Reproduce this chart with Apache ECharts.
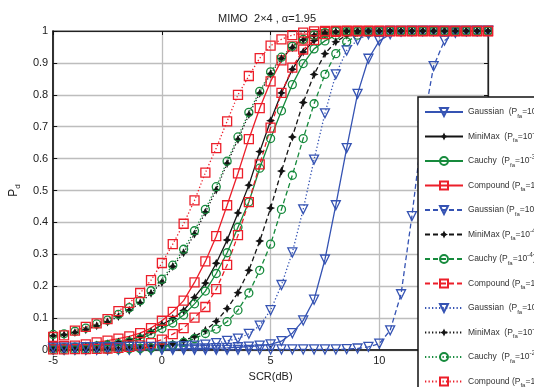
<!DOCTYPE html>
<html><head><meta charset="utf-8">
<script src="https://cdn.jsdelivr.net/npm/echarts@6/dist/echarts.min.js"></script>
<style>html,body{margin:0;padding:0;background:#fff}#c{width:534px;height:387px}</style>
</head><body><div id="c"></div>
<script>
const scr = [-5,-4.5,-4,-3.5,-3,-2.5,-2,-1.5,-1,-0.5,0,0.5,1,1.5,2,2.5,3,3.5,4,4.5,5,5.5,6,6.5,7,7.5,8,8.5,9,9.5,10,10.5,11,11.5,12,12.5,13,13.5,14,14.5,15];
const xTicks = [-5,0,5,10,15];
const yTicks = [0,0.1,0.2,0.3,0.4,0.5,0.6,0.7,0.8,0.9,1];

const gauss3 = [0.002,0.002,0.002,0.002,0.002,0.002,0.003,0.003,0.003,0.003,0.003,0.004,0.004,0.005,0.005,0.006,0.007,0.009,0.011,0.014,0.018,0.028,0.053,0.093,0.158,0.284,0.454,0.633,0.803,0.913,0.969,0.99,0.998,1,1,1,1,1,1,1,1];
const minimax3 = [0.008,0.009,0.011,0.013,0.016,0.02,0.025,0.032,0.042,0.058,0.08,0.099,0.124,0.165,0.21,0.272,0.345,0.43,0.517,0.622,0.719,0.806,0.88,0.934,0.97,0.988,0.996,0.999,1,1,1,1,1,1,1,1,1,1,1,1,1];
const cauchy3 = [0.007,0.008,0.009,0.011,0.013,0.016,0.02,0.026,0.035,0.05,0.068,0.085,0.11,0.145,0.185,0.24,0.305,0.385,0.464,0.57,0.663,0.75,0.832,0.898,0.944,0.969,0.987,0.995,0.999,1,1,1,1,1,1,1,1,1,1,1,1];
const compound3 = [0.01,0.012,0.014,0.018,0.024,0.03,0.036,0.043,0.053,0.069,0.092,0.12,0.155,0.212,0.278,0.357,0.454,0.554,0.661,0.758,0.842,0.908,0.952,0.976,0.99,0.997,1,1,1,1,1,1,1,1,1,1,1,1,1,1,1];
const gauss4 = [0.001,0.001,0.001,0.001,0.001,0.001,0.001,0.001,0.001,0.001,0.001,0.001,0.001,0.001,0.001,0.001,0.001,0.001,0.001,0.002,0.002,0.002,0.002,0.002,0.002,0.002,0.002,0.003,0.005,0.01,0.02,0.062,0.175,0.42,0.7,0.89,0.97,0.994,0.999,1,1];
const minimax4 = [0.001,0.001,0.0015,0.002,0.002,0.003,0.004,0.005,0.007,0.01,0.014,0.02,0.03,0.043,0.062,0.09,0.13,0.18,0.25,0.342,0.445,0.561,0.668,0.776,0.864,0.929,0.966,0.987,0.995,0.999,1,1,1,1,1,1,1,1,1,1,1];
const cauchy4 = [0.001,0.001,0.001,0.0015,0.002,0.002,0.003,0.004,0.005,0.007,0.01,0.015,0.024,0.036,0.052,0.066,0.089,0.125,0.179,0.25,0.332,0.441,0.548,0.663,0.772,0.864,0.929,0.966,0.987,0.995,0.999,1,1,1,1,1,1,1,1,1,1];
const compound4 = [0.002,0.002,0.003,0.003,0.004,0.005,0.007,0.01,0.015,0.022,0.033,0.05,0.069,0.102,0.135,0.191,0.267,0.36,0.464,0.582,0.697,0.806,0.885,0.942,0.972,0.99,0.997,1,1,1,1,1,1,1,1,1,1,1,1,1,1];
const gauss2 = [0.008,0.008,0.008,0.009,0.009,0.009,0.009,0.01,0.01,0.01,0.01,0.011,0.012,0.014,0.017,0.022,0.029,0.036,0.051,0.077,0.125,0.204,0.306,0.441,0.597,0.742,0.864,0.939,0.972,0.99,0.997,1,1,1,1,1,1,1,1,1,1];
const minimax2 = [0.045,0.048,0.055,0.064,0.076,0.088,0.105,0.125,0.148,0.178,0.212,0.262,0.305,0.364,0.432,0.502,0.585,0.66,0.738,0.805,0.866,0.914,0.948,0.972,0.986,0.994,0.998,1,1,1,1,1,1,1,1,1,1,1,1,1,1];
const cauchy2 = [0.049,0.051,0.059,0.069,0.082,0.094,0.112,0.133,0.155,0.186,0.222,0.266,0.316,0.374,0.441,0.512,0.592,0.668,0.745,0.811,0.872,0.918,0.952,0.974,0.987,0.995,0.999,1,1,1,1,1,1,1,1,1,1,1,1,1,1];
const compound2 = [0.041,0.046,0.061,0.073,0.084,0.097,0.122,0.148,0.179,0.219,0.273,0.332,0.396,0.469,0.556,0.633,0.717,0.8,0.859,0.915,0.954,0.974,0.987,0.995,0.999,1,1,1,1,1,1,1,1,1,1,1,1,1,1,1,1];

const methods = ['Gaussian','MiniMax','Cauchy','Compound'];
const labelText = ['Gaussian  (P','MiniMax  (P','Cauchy  (P','Compound (P'];
const labelText4 = ['Gaussian (P','MiniMax (P','Cauchy (P','Compound (P'];
const pfaExp = ['-3','-4','-2'];
const seriesData = [
  [gauss3, minimax3, cauchy3, compound3],
  [gauss4, minimax4, cauchy4, compound4],
  [gauss2, minimax2, cauchy2, compound2]
];

const colors = ['#3553b3','#141414','#168a3c','#ec1f2a'];
const symbols = ['triangle','path://M0,-10 L3.2,-3.2 L10,0 L3.2,3.2 L0,10 L-3.2,3.2 L-10,0 L-3.2,-3.2 Z','circle','rect'];
const symSizes = [9,9,8,9];
const dashTypes = ['solid',[5,3],[1.3,2.2]];

const series = [];
const richNames = {};
seriesData.forEach((group, gi) => {
  group.forEach((vals, mi) => {
    const name = methods[mi] + ' (Pfa=10' + pfaExp[gi] + ')';
    const txt = gi === 1 ? labelText4[mi] : labelText[mi];
    richNames[name] = '{t|' + txt + '}{s|fa}{t|=10}{p|' + pfaExp[gi] + '}{t|)}';
    series.push({
      name: name,
      type: 'line',
      data: scr.map((x, i) => [x, vals[i]]),
      symbol: symbols[mi],
      symbolSize: symSizes[mi],
      symbolRotate: mi === 0 ? 180 : 0,
      lineStyle: { color: colors[mi], width: 1.3, type: dashTypes[gi] },
      itemStyle: { color: mi === 1 ? colors[mi] : 'rgba(0,0,0,0)', borderColor: colors[mi], borderWidth: mi === 1 ? 0 : 1.3 },
      emphasis: { disabled: true },
      z: 2
    });
  });
});

const chart = echarts.init(document.getElementById('c'), null, { renderer: 'canvas' });
const axisFont = { fontFamily: 'Liberation Sans, Arial, sans-serif', fontSize: 11, color: '#222' };
chart.setOption({
  animation: false,
  backgroundColor: '#fff',
  title: {
    text: 'MIMO  2×4 , α=1.95',
    left: 'center', top: 8,
    textStyle: { fontFamily: 'Liberation Sans, Arial, sans-serif', fontSize: 11, fontWeight: 'normal', color: '#222' }
  },
  grid: { left: 52, right: 46, top: 31, bottom: 31, show: true, borderColor: '#222', borderWidth: 1.2, backgroundColor: 'transparent' },
  xAxis: [{
    type: 'value', min: xTicks[0], max: xTicks[xTicks.length - 1], interval: 5,
    name: 'SCR(dB)', nameLocation: 'middle', nameGap: 20,
    nameTextStyle: axisFont,
    axisLine: { show: true, onZero: false, lineStyle: { color: '#111', width: 1.6 } },
    axisTick: { show: true, inside: true, length: 4, lineStyle: { color: '#111' } },
    axisLabel: Object.assign({ margin: 5 }, axisFont),
    splitLine: { show: true, lineStyle: { color: '#bdbdbd', width: 1.3 } }
  }, {
    type: 'value', position: 'top', min: xTicks[0], max: xTicks[xTicks.length - 1], interval: 5,
    axisLine: { show: true, onZero: false, lineStyle: { color: '#222', width: 1.2 } },
    axisTick: { show: true, inside: true, length: 4, lineStyle: { color: '#111' } },
    axisLabel: { show: false }, splitLine: { show: false }
  }],
  yAxis: [{
    type: 'value', min: yTicks[0], max: yTicks[yTicks.length - 1], interval: 0.1,
    name: '{a|P}{b|d}', nameLocation: 'middle', nameGap: 28, nameRotate: 90,
    nameTextStyle: { rich: {
      a: { fontFamily: 'Liberation Sans, Arial, sans-serif', fontSize: 12, color: '#222', lineHeight: 16 },
      b: { fontFamily: 'Liberation Sans, Arial, sans-serif', fontSize: 8, color: '#222', lineHeight: 8, verticalAlign: 'bottom' }
    } },
    axisLine: { show: true, onZero: false, lineStyle: { color: '#111', width: 1.6 } },
    axisTick: { show: true, inside: true, length: 4, lineStyle: { color: '#111' } },
    axisLabel: Object.assign({ margin: 5, formatter: v => String(Math.round(v * 10) / 10) }, axisFont),
    splitLine: { show: true, lineStyle: { color: '#bdbdbd', width: 1.3 } }
  }, {
    type: 'value', position: 'right', min: yTicks[0], max: yTicks[yTicks.length - 1], interval: 0.1,
    axisLine: { show: true, onZero: false, lineStyle: { color: '#222', width: 1.2 } },
    axisTick: { show: true, inside: true, length: 4, lineStyle: { color: '#111' } },
    axisLabel: { show: false }, splitLine: { show: false }
  }],
  legend: {
    orient: 'vertical', left: 418, top: 97, height: 420,
    padding: [8, 6, 8, 6], itemWidth: 38, itemHeight: 10, itemGap: 10.5,
    backgroundColor: '#fff', borderColor: '#111', borderWidth: 1.5, borderRadius: 0,
    selectedMode: false,
    formatter: name => richNames[name],
    textStyle: { color: '#333', rich: {
      t: { fontFamily: 'Liberation Sans, Arial, sans-serif', fontSize: 8.5, color: '#333', lineHeight: 14 },
      s: { fontFamily: 'Liberation Sans, Arial, sans-serif', fontSize: 6, color: '#333', lineHeight: 7, verticalAlign: 'bottom' },
      p: { fontFamily: 'Liberation Sans, Arial, sans-serif', fontSize: 6.5, color: '#333', lineHeight: 9, verticalAlign: 'top' }
    } },
    data: series.map(s => s.name)
  },
  series: series
});
</script></body></html>
